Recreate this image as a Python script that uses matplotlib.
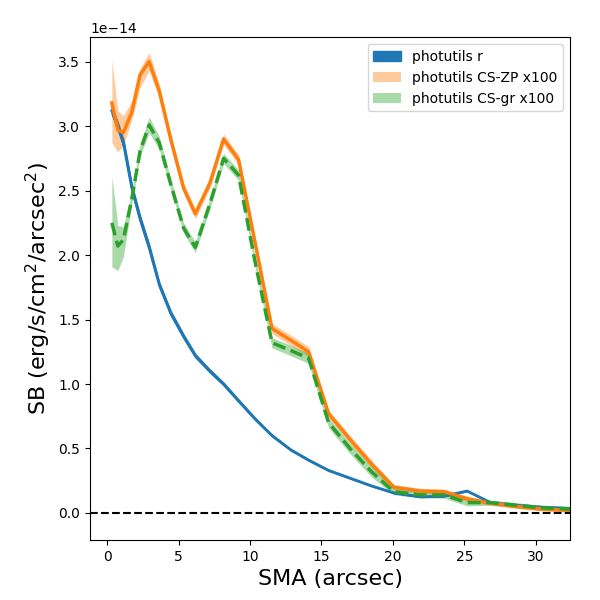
import numpy as np
import matplotlib
matplotlib.use("Agg")
import matplotlib.pyplot as plt

# semi-major axis (arcsec)
sma = [0.33, 0.75, 1.14, 1.73, 2.31, 2.94, 3.65, 4.45, 5.35, 6.17, 7.2, 8.15, 9.2, 10.35,
       11.54, 12.85, 14.1, 15.5, 17.0, 18.5, 20.07, 21.93, 23.57, 25.2, 26.84, 28.6, 30.4, 32.4]

# surface brightness, units of 1e-14
sb_r = [3.12, 3.0, 2.87, 2.52, 2.28, 2.06, 1.77, 1.55, 1.37, 1.22, 1.10, 1.0, 0.87, 0.73,
        0.60, 0.49, 0.41, 0.33, 0.27, 0.21, 0.155, 0.125, 0.13, 0.17, 0.08, 0.06, 0.045, 0.035]

sb_zp = [3.18, 2.97, 2.95, 3.11, 3.40, 3.50, 3.27, 2.90, 2.52, 2.32, 2.56, 2.90, 2.74, 2.10,
         1.43, 1.34, 1.25, 0.77, 0.57, 0.38, 0.20, 0.17, 0.165, 0.11, 0.075, 0.05, 0.03, 0.02]
zp_hi = [3.51, 3.12, 3.08, 3.20, 3.45, 3.57, 3.33, 2.94, 2.56, 2.36, 2.60, 2.94, 2.78, 2.14,
         1.47, 1.38, 1.29, 0.80, 0.60, 0.41, 0.22, 0.19, 0.185, 0.13, 0.09, 0.065, 0.045, 0.035]
zp_lo = [2.87, 2.80, 2.85, 3.05, 3.30, 3.43, 3.22, 2.86, 2.48, 2.28, 2.52, 2.86, 2.70, 2.06,
         1.39, 1.30, 1.21, 0.74, 0.54, 0.35, 0.18, 0.15, 0.145, 0.09, 0.06, 0.035, 0.015, 0.005]

sb_gr = [2.25, 2.07, 2.12, 2.44, 2.81, 3.01, 2.87, 2.55, 2.21, 2.06, 2.40, 2.75, 2.62, 1.95,
         1.32, 1.26, 1.20, 0.70, 0.50, 0.32, 0.165, 0.14, 0.14, 0.08, 0.08, 0.06, 0.04, 0.03]
gr_hi = [2.61, 2.23, 2.22, 2.50, 2.86, 3.07, 2.92, 2.59, 2.25, 2.10, 2.44, 2.79, 2.66, 1.99,
         1.36, 1.30, 1.24, 0.74, 0.54, 0.36, 0.19, 0.165, 0.165, 0.105, 0.10, 0.08, 0.06, 0.05]
gr_lo = [1.91, 1.88, 1.99, 2.40, 2.77, 2.95, 2.82, 2.51, 2.17, 2.02, 2.36, 2.71, 2.58, 1.91,
         1.28, 1.22, 1.16, 0.66, 0.46, 0.28, 0.14, 0.115, 0.115, 0.055, 0.06, 0.04, 0.02, 0.01]

scale = 1e-14
x = np.array(sma)

fig, ax = plt.subplots(figsize=(6, 6), dpi=100)

ax.fill_between(x, np.array(sb_r) * scale * 0.99, np.array(sb_r) * scale * 1.01,
                color='C0', alpha=1, label='photutils r')
ax.plot(x, np.array(sb_r) * scale, color='C0', lw=2)

ax.fill_between(x, np.array(zp_lo) * scale, np.array(zp_hi) * scale,
                color='C1', alpha=0.4, lw=0, label='photutils CS-ZP x100')
ax.plot(x, np.array(sb_zp) * scale, color='C1', lw=2.5)

ax.fill_between(x, np.array(gr_lo) * scale, np.array(gr_hi) * scale,
                color='C2', alpha=0.4, lw=0, label='photutils CS-gr x100')
ax.plot(x, np.array(sb_gr) * scale, color='C2', lw=2.5, ls='--')

ax.axhline(0, color='k', ls='--', lw=1.5)

ax.set_xlim(-1.2, 32.4)
ax.set_ylim(-0.21 * scale, 3.69 * scale)
ax.set_xlabel('SMA (arcsec)', fontsize=16)
ax.set_ylabel('SB (erg/s/cm$^2$/arcsec$^2$)', fontsize=16)
ax.legend(loc='upper right')

plt.subplots_adjust(left=0.15, right=0.95, top=0.938, bottom=0.1)
plt.savefig('out.png')
